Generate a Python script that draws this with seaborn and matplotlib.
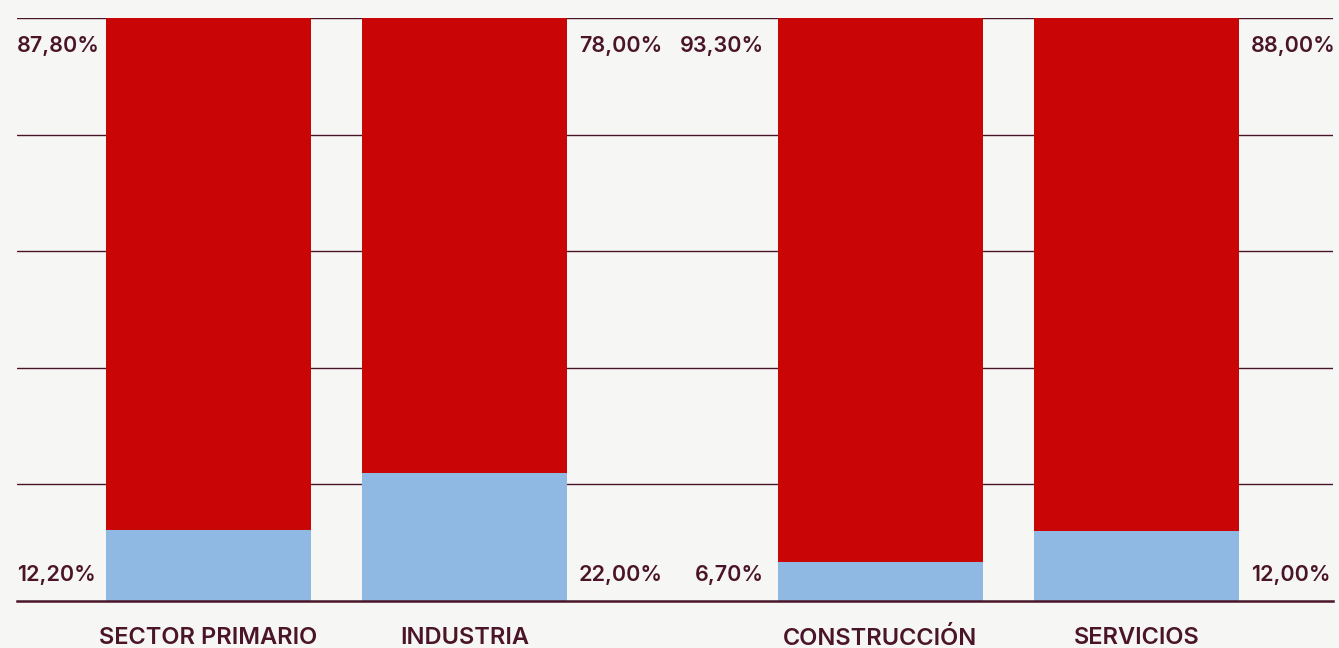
import matplotlib
matplotlib.use("Agg")
import matplotlib.pyplot as plt
import seaborn as sns
import numpy as np

# data
sectors = ['SECTOR PRIMARIO', 'INDUSTRIA', 'CONSTRUCCIÓN', 'SERVICIOS']
share_red = [87.8, 78.0, 93.3, 88.0]
share_blue = [12.2, 22.0, 6.7, 12.0]
red_labels = ['87,80%', '78,00%', '93,30%', '88,00%']
blue_labels = ['12,20%', '22,00%', '6,70%', '12,00%']

RED = '#CA0505'
BLUE = '#8FB8E2'
BG = '#F6F6F4'
INK = '#4A1529'

sns.set_theme(style='white')
plt.rcParams['font.family'] = ['Inter', 'DejaVu Sans']

# two pairs of bars with a wider gap between the pairs
xpos = np.arange(len(sectors)) + np.array([0, 0, 0.625, 0.625])
totals = np.array(share_red) + np.array(share_blue)

fig = plt.figure(figsize=(13.39, 6.48), dpi=100, facecolor=BG)
ax = fig.add_axes([17 / 1339, 47 / 648, 1316 / 1339, 583 / 648])
ax.set_facecolor(BG)

sns.barplot(x=xpos, y=totals, native_scale=True, color=RED, saturation=1,
            width=0.8, linewidth=0, ax=ax, zorder=3)
sns.barplot(x=xpos, y=share_blue, native_scale=True, color=BLUE, saturation=1,
            width=0.8, linewidth=0, ax=ax, zorder=4)

ax.set_xlim(-0.748, 4.393)
ax.set_ylim(0, 100)

# horizontal rules
for lvl in [20, 40, 60, 80, 100]:
    ax.axhline(lvl, color=INK, lw=1.0, zorder=1)
for side in ['top', 'right', 'left']:
    ax.spines[side].set_visible(False)
ax.spines['bottom'].set_color(INK)
ax.spines['bottom'].set_linewidth(1.8)
ax.spines['bottom'].set_zorder(5)

ax.set_yticks([])
ax.set_xticks(xpos, sectors)
ax.tick_params(axis='x', length=0, pad=19, labelsize=17, labelcolor=INK)
for t in ax.get_xticklabels():
    t.set_fontweight('semibold')
ax.set_xlabel('')
ax.set_ylabel('')

# value labels beside the bars
lab_kw = dict(fontsize=15.5, color=INK, fontweight='semibold', va='center')
half = 0.4
for i, x in enumerate(xpos):
    if i == 0:
        tx, ha, dx = ax.get_xlim()[0], 'left', 0
    elif i == 2:
        tx, ha, dx = x - half, 'right', -10
    else:
        tx, ha, dx = x + half, 'left', 8.6
    ax.annotate(red_labels[i], (tx, 100), xytext=(dx, -20), textcoords='offset points',
                ha=ha, **lab_kw)
    ax.annotate(blue_labels[i], (tx, 0), xytext=(dx, 18.5), textcoords='offset points',
                ha=ha, **lab_kw)

fig.savefig('out.png', dpi=100, facecolor=BG)
